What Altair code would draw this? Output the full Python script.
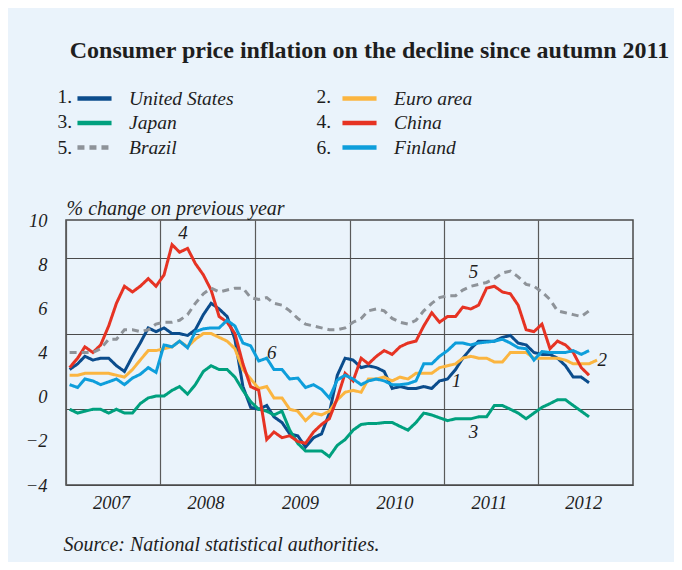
import altair as alt
import pandas as pd

SERIF = "Liberation Serif"
TXT = "#1e1e1e"

countries = ["United States", "Euro area", "Japan", "China", "Brazil", "Finland"]
numbers = ["1.", "2.", "3.", "4.", "5.", "6."]
colors = ["#0B4C8C", "#FBB540", "#00A07E", "#E63323", "#8E9399", "#0E9EDB"]

us = [2.1, 2.4, 2.8, 2.6, 2.7, 2.7, 2.3, 2.0, 2.8, 3.5, 4.3, 4.1,
      4.3, 4.0, 4.0, 3.9, 4.2, 5.0, 5.6, 5.3, 4.9, 3.7, 1.2, 0.1,
      0.0, 0.2, -0.4, -0.7, -1.3, -1.4, -2.0, -1.5, -1.3, -0.2, 1.8, 2.7,
      2.6, 2.2, 2.3, 2.2, 2.0, 1.1, 1.2, 1.1, 1.1, 1.2, 1.1, 1.5,
      1.6, 2.1, 2.7, 3.2, 3.6, 3.6, 3.6, 3.8, 3.9, 3.5, 3.4, 3.0,
      2.9, 2.9, 2.7, 2.3, 1.7, 1.7, 1.4]
euro = [1.8, 1.8, 1.9, 1.9, 1.9, 1.9, 1.8, 1.7, 2.1, 2.6, 3.1, 3.1,
        3.2, 3.3, 3.6, 3.3, 3.7, 4.0, 4.0, 3.8, 3.6, 3.2, 2.1, 1.6,
        1.1, 1.2, 0.6, 0.6, 0.0, -0.1, -0.6, -0.2, -0.3, -0.1, 0.5, 0.9,
        1.0, 0.9, 1.6, 1.6, 1.7, 1.5, 1.7, 1.6, 1.9, 1.9, 1.9, 2.2,
        2.3, 2.4, 2.7, 2.8, 2.7, 2.7, 2.5, 2.5, 3.0, 3.0, 3.0, 2.7,
        2.7, 2.7, 2.7, 2.6, 2.4, 2.4, 2.4, 2.6]
japan = [0.0, -0.2, -0.1, 0.0, 0.0, -0.2, 0.0, -0.2, -0.2, 0.3, 0.6, 0.7,
         0.7, 1.0, 1.2, 0.8, 1.3, 2.0, 2.3, 2.1, 2.1, 1.7, 1.0, 0.4,
         0.0, -0.1, -0.3, -0.1, -1.1, -1.8, -2.2, -2.2, -2.2, -2.5, -1.9, -1.6,
         -1.1, -0.8, -0.75, -0.75, -0.7, -0.7, -0.9, -1.1, -0.7, -0.2, -0.3, -0.45,
         -0.6, -0.5, -0.5, -0.5, -0.4, -0.4, 0.2, 0.2, 0.0, -0.2, -0.5, -0.2,
         0.1, 0.3, 0.5, 0.5, 0.2, -0.1, -0.4]
china = [2.2, 2.7, 3.3, 3.0, 3.4, 4.4, 5.6, 6.5, 6.2, 6.5, 6.9, 6.5,
         7.1, 8.7, 8.3, 8.5, 7.7, 7.1, 6.3, 4.9, 4.6, 4.0, 2.4, 1.2,
         1.0, -1.6, -1.2, -1.5, -1.4, -1.7, -1.8, -1.2, -0.8, -0.5, 0.6, 1.9,
         1.5, 2.7, 2.4, 2.8, 3.1, 2.9, 3.3, 3.5, 3.6, 4.4, 5.1, 4.6,
         4.9, 4.9, 5.4, 5.3, 5.5, 6.4, 6.5, 6.2, 6.1, 5.5, 4.2, 4.1,
         4.5, 3.2, 3.6, 3.4, 3.0, 2.2, 1.8]
brazil = [3.0, 3.0, 3.0, 3.0, 3.2, 3.7, 3.7, 4.2, 4.2, 4.1, 4.2, 4.5,
          4.6, 4.6, 4.7, 5.0, 5.6, 6.1, 6.4, 6.2, 6.3, 6.4, 6.4, 5.9,
          5.8, 5.9, 5.6, 5.5, 5.2, 4.8, 4.5, 4.4, 4.3, 4.2, 4.2, 4.3,
          4.6, 4.8, 5.2, 5.3, 5.2, 4.8, 4.6, 4.5, 4.7, 5.2, 5.6, 5.9,
          6.0, 6.0, 6.3, 6.5, 6.6, 6.7, 6.9, 7.2, 7.3, 7.0, 6.6, 6.5,
          6.2, 5.8, 5.2, 5.1, 5.0, 4.9, 5.2]
finland = [1.3, 1.15, 1.6, 1.5, 1.3, 1.45, 1.6, 1.3, 1.65, 1.85, 2.2, 1.95,
           3.4, 3.3, 3.6, 3.25, 4.1, 4.25, 4.3, 4.3, 4.7, 4.4, 3.5, 3.35,
           2.55, 2.7, 2.1, 2.1, 1.6, 1.65, 1.15, 1.3, 1.05, 0.6, 1.55, 1.8,
           1.6, 1.3, 1.5, 1.6, 1.5, 1.3, 1.3, 1.35, 1.5, 2.4, 2.4, 2.8,
           3.1, 3.5, 3.5, 3.4, 3.5, 3.55, 3.6, 3.7, 3.5, 3.25, 3.2, 2.6,
           3.05, 3.0, 3.0, 3.0, 3.1, 2.9, 3.1]
series = [us, euro, japan, china, brazil, finland]

# monthly observations, plotted mid-month, Jan 2007 onwards
months = pd.date_range("2007-01-01", periods=68, freq="MS") + pd.Timedelta(days=14)

# in-plot series labels
lab_text = ["4", "6", "5", "1", "3", "2"]
lab_date = ["2008-03-28", "2009-03-06", "2011-04-25", "2011-02-19", "2011-04-25", "2012-09-04"]
lab_val = [9.3, 3.0, 7.25, 1.5, -1.2, 2.6]

# printed y-axis labels (as they appear, top to bottom)
y_labels = ["10", "8", "6", "4", "0", "\u22122", "\u22124"]
y_grid = [-4, -2, 0, 2, 4, 6, 8, 10]
years = [2007, 2008, 2009, 2010, 2011, 2012]

rows = []
for c, vals in zip(countries, series):
    for d, v in zip(months, vals):
        rows.append({"date": d.strftime("%Y-%m-%d"), "country": c, "value": v})
df = pd.DataFrame(rows)

labels_df = pd.DataFrame({"t": lab_text, "date": lab_date, "value": lab_val})
nums_df = pd.DataFrame({"num": numbers})
ylab_df = pd.DataFrame({"lab": y_labels})

x_scale = alt.Scale(domain=[alt.DateTime(year=2007, month=1, date=1),
                            alt.DateTime(year=2013, month=1, date=1)])
y_scale = alt.Scale(domain=[-4, 10], nice=False, zero=False)

x_axis = alt.Axis(
    values=[alt.DateTime(year=y, month=1, date=1) for y in years],
    format="%Y", labelOffset=45, labelFlush=False, labelOverlap=False,
    labelFont=SERIF, labelFontStyle="italic", labelFontSize=18.5, labelColor=TXT,
    labelPadding=8, ticks=False, domain=False,
    grid=True, gridColor="#5a5a5a", gridWidth=1.2,
    title="Source: National statistical authorities.",
    titleFont=SERIF, titleFontStyle="italic", titleFontWeight="normal",
    titleFontSize=20, titleColor=TXT, titleAnchor="start", titleAlign="left",
    titleX=-3, titleY=59, titleBaseline="middle",
)

y_axis = alt.Axis(
    values=y_grid, labels=False, ticks=False, domain=False,
    grid=True, gridColor=alt.condition("datum.value == 2", alt.value("#111111"), alt.value("#4a4a4a")),
    gridWidth=alt.condition("datum.value == 2", alt.value(1.6), alt.value(1.1)),
    title="% change on previous year", titleAngle=0, titleAlign="left",
    titleX=0, titleY=-12, titleBaseline="middle",
    titleFont=SERIF, titleFontStyle="italic", titleFontWeight="normal",
    titleFontSize=20, titleColor=TXT,
)

legend_main = alt.Legend(
    title=None, orient="none", legendX=14, legendY=-136, columns=2,
    direction="horizontal",
    symbolType="M-1.42,0H1.42", symbolSize=576, symbolStrokeWidth=4.5,
    labelFont=SERIF, labelFontStyle="italic", labelFontSize=19.5, labelColor=TXT,
    labelOffset=20, columnPadding=99, rowPadding=0.5, labelLimit=300,
)

lines = alt.Chart(df).mark_line(strokeWidth=3).encode(
    x=alt.X("date:T", scale=x_scale, axis=x_axis),
    y=alt.Y("value:Q", scale=y_scale, axis=y_axis),
    color=alt.Color("country:N", scale=alt.Scale(domain=countries, range=colors),
                    sort=countries, legend=legend_main),
    strokeDash=alt.StrokeDash("country:N", sort=countries,
                              scale=alt.Scale(domain=countries,
                                              range=[[1, 0], [1, 0], [1, 0], [1, 0], [7, 5], [1, 0]]),
                              legend=legend_main),
)

texts = alt.Chart(labels_df).mark_text(
    font=SERIF, fontStyle="italic", fontSize=19, color=TXT
).encode(
    x=alt.X("date:T", scale=x_scale),
    y=alt.Y("value:Q", scale=y_scale),
    text="t:N",
)

num_legend = alt.Chart(nums_df).mark_point(opacity=0).encode(
    shape=alt.Shape("num:N", sort=numbers, legend=alt.Legend(
        title=None, orient="none", legendX=-28, legendY=-133.5, columns=2,
        direction="horizontal",
        symbolOpacity=0, symbolSize=0, symbolStrokeWidth=0,
        labelFont=SERIF, labelFontSize=19.5, labelColor=TXT, labelOffset=0,
        columnPadding=224, rowPadding=5,
    ))
)

inner = alt.layer(lines, texts, num_legend)

ylabels = alt.Chart(ylab_df).mark_point(opacity=0).encode(
    y=alt.Y("lab:N", sort=y_labels, scale=alt.Scale(type="point", padding=0),
            axis=alt.Axis(title=None, orient="left", ticks=False, domain=False, grid=False,
                          labelFont=SERIF, labelFontStyle="italic", labelFontSize=18.5,
                          labelColor=TXT, labelPadding=19)),
)

chart = alt.layer(inner, ylabels).resolve_scale(y="independent").properties(
    width=567, height=265,
    padding={"left": 58, "top": 212, "right": 41, "bottom": 77},
    autosize=alt.AutoSizeParams(type="none"),
    background="#EAF3FB",
    title=alt.TitleParams(
        "Consumer price inflation on the decline since autumn 2011",
        font=SERIF, fontSize=24, fontWeight="bold", color=TXT,
        anchor="middle", dx=20, offset=21,
    ),
).configure_view(stroke="#4a4a4a", strokeWidth=1.5)

chart.save("out.html", embed_options={"renderer": "svg", "actions": False})
